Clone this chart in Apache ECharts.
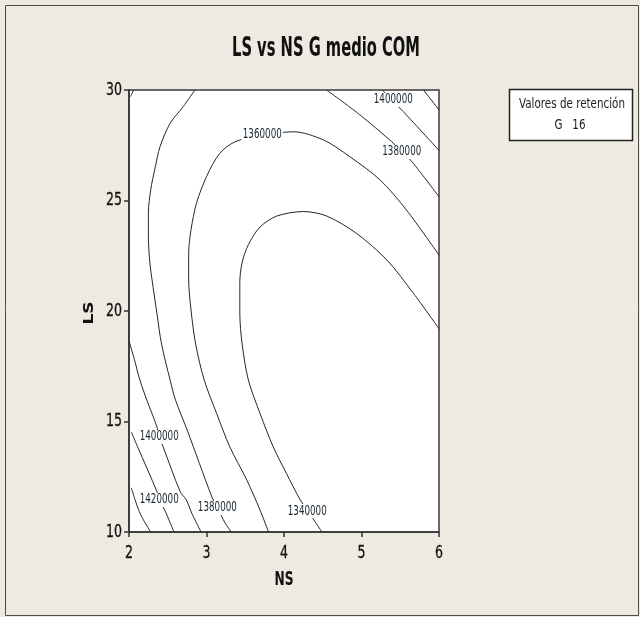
<!DOCTYPE html>
<html>
<head>
<meta charset="utf-8">
<script src="https://cdn.jsdelivr.net/npm/echarts@6/dist/echarts.min.js"></script>
<style>
html,body{margin:0;padding:0;background:#EEEAE1;}
#chart{width:640px;height:617px;}
</style>
</head>
<body>
<div id="chart"></div>
<script>
// ---- data ----
const title = 'LS vs NS G medio COM';
const xName = 'NS';
const yName = 'LS';
const xTicks = [2, 3, 4, 5, 6];
const yTicks = [10, 15, 20, 25, 30];
const holdTitle = 'Valores de retención';
const holdValue = 'G   16';

// contour lines, [NS, LS] points
const c1340 = [[4.49,10.0],[4.40,10.47],[4.31,10.95],[4.21,11.45],[4.03,12.66],[3.86,13.86],[3.69,15.37],[3.54,16.88],[3.46,18.5],[3.43,19.9],[3.43,21.3],[3.46,22.2],[3.54,23.0],[3.69,23.8],[3.91,24.3],[4.25,24.5],[4.55,24.3],[4.94,23.5],[5.33,22.3],[5.67,20.8],[6.0,19.2]];
const c1360 = [[3.80,10.0],[3.69,11.0],[3.52,12.35],[3.30,13.86],[3.13,15.37],[2.97,16.88],[2.86,18.5],[2.80,20.05],[2.77,21.40],[2.77,22.61],[2.80,23.67],[2.87,24.87],[3.00,26.08],[3.17,27.13],[3.37,27.66],[3.72,27.95],[4.12,28.11],[4.51,27.74],[4.85,26.98],[5.24,25.93],[5.58,24.57],[6.0,22.53]];
const c1380a = [[2.85,30],[2.70,29.25],[2.53,28.49],[2.40,27.43],[2.34,26.53],[2.28,25.48],[2.25,24.42],[2.25,23.37],[2.27,22.16],[2.31,21.10],[2.36,19.90],[2.42,18.5],[2.53,16.88],[2.60,15.97],[2.75,14.62],[3.07,11.58],[3.14,11.09],[3.24,10.41],[3.32,10.0]];
const c1380b = [[4.55,30],[4.97,28.9],[5.39,27.66],[5.52,27.2],[5.65,26.76],[6.0,25.17]];
const c1400a = [[2.0,18.65],[2.07,17.8],[2.14,16.88],[2.23,15.97],[2.36,14.76],[2.39,14.3],[2.44,13.86],[2.66,11.83],[2.74,11.45],[2.81,10.85],[2.93,10.0]];
const c1400b = [[5.27,30],[5.39,29.55],[5.54,29.02],[6.0,27.27]];
const c1400c = [[2.06,30],[2.02,29.7]];
const c1420a = [[2.03,14.52],[2.11,13.86],[2.36,11.83],[2.39,11.45],[2.46,11.0],[2.58,10.0]];
const c1420b = [[5.80,30],[6.0,29.1]];
const c1440 = [[2.03,12.0],[2.14,10.86],[2.28,10.0]];

const contourLines = [c1340, c1360, c1380a, c1380b, c1400a, c1400b, c1400c, c1420a, c1420b, c1440];

// contour labels [NS, LS, text]
const contourLabels = [
  [3.72, 28.0, '1360000'],
  [5.41, 29.55, '1400000'],
  [5.52, 27.2, '1380000'],
  [2.39, 14.3, '1400000'],
  [2.39, 11.45, '1420000'],
  [3.14, 11.09, '1380000'],
  [4.30, 10.95, '1340000']
];

// ---- chart ----
const FONT = '"DejaVu Sans", sans-serif';
const ctx = document.createElement('canvas').getContext('2d');
function fitScale(text, font, targetWidth) {
  ctx.font = font;
  return targetWidth / ctx.measureText(text).width;
}
// The reference's lettering is tall and narrow: fit widths, keep heights
const titleFont = 'bold 26px ' + FONT;
const titleScale = fitScale(title, titleFont, 188);
const legFont = '14px ' + FONT;
const legScale = fitScale(holdTitle, legFont, 106);
const tickFont = '18.5px ' + FONT;
const tickScale = fitScale('30', tickFont, 16);
const nameFont = 'bold 19px ' + FONT;
const nameScale = fitScale('NS', nameFont, 19);
const lblFont = '13.5px ' + FONT;
const lblScale = fitScale('1400000', lblFont, 39);

const chart = echarts.init(document.getElementById('chart'), null, {renderer: 'canvas'});

const series = contourLines.map(pts => ({
  type: 'line',
  data: pts,
  showSymbol: false,
  symbol: 'none',
  smooth: 0.3,
  clip: true,
  lineStyle: {color: '#262626', width: 1},
  silent: true,
  z: 2
}));

const option = {
  backgroundColor: '#EEEAE1',
  animation: false,
  grid: {
    left: 129, top: 90, width: 310, height: 442,
    show: true, backgroundColor: '#ffffff', borderColor: '#3a3a3a', borderWidth: 1.5
  },
  xAxis: {
    type: 'value', min: xTicks[0], max: xTicks[xTicks.length - 1], interval: 1,
    axisLine: {show: true, lineStyle: {color: '#333', width: 1.5}},
    axisTick: {show: true, length: 5, lineStyle: {color: '#333', width: 1.5}},
    axisLabel: {show: false},
    splitLine: {show: false}
  },
  yAxis: {
    type: 'value', min: yTicks[0], max: yTicks[yTicks.length - 1], interval: 5,
    axisLine: {show: true, lineStyle: {color: '#333', width: 1.5}},
    axisTick: {show: true, length: 5, lineStyle: {color: '#333', width: 1.5}},
    axisLabel: {show: false},
    splitLine: {show: false}
  },
  series: series
};
chart.setOption(option);

// text elements, positioned through the chart's own scales
const px = (x, y) => chart.convertToPixel({gridIndex: 0}, [x, y]);
const g = [];
g.push({type: 'rect', shape: {x: 5.5, y: 5.5, width: 633, height: 610}, style: {fill: null, stroke: '#4a4a4a', lineWidth: 1}, silent: true, z: 0});
g.push({type: 'text', x: 326, y: 49, scaleX: titleScale, style: {text: title, font: titleFont, fill: '#111', textAlign: 'center', textVerticalAlign: 'middle'}, z: 11});
g.push({type: 'rect', shape: {x: 509.5, y: 89.5, width: 123, height: 51}, style: {fill: '#ffffff', stroke: '#222', lineWidth: 1.5}, z: 10});
g.push({type: 'text', x: 572, y: 104, scaleX: legScale, style: {text: holdTitle, font: legFont, fill: '#222', textAlign: 'center', textVerticalAlign: 'middle'}, z: 11});
g.push({type: 'text', x: 570, y: 125, scaleX: legScale, style: {text: holdValue, font: legFont, fill: '#222', textAlign: 'center', textVerticalAlign: 'middle'}, z: 11});

const xAxisY = px(xTicks[0], yTicks[0])[1];
const yAxisX = px(xTicks[0], yTicks[0])[0];
xTicks.forEach(t => {
  const p = px(t, yTicks[0]);
  g.push({type: 'text', x: p[0], y: xAxisY + 21, scaleX: tickScale, style: {text: String(t), font: tickFont, fill: '#111', stroke: '#111', lineWidth: 0.3, textAlign: 'center', textVerticalAlign: 'middle'}, z: 11});
});
yTicks.forEach(t => {
  const p = px(xTicks[0], t);
  g.push({type: 'text', x: yAxisX - 7, y: p[1], scaleX: tickScale, style: {text: String(t), font: tickFont, fill: '#111', stroke: '#111', lineWidth: 0.3, textAlign: 'right', textVerticalAlign: 'middle'}, z: 11});
});
const xMid = px((xTicks[0] + xTicks[xTicks.length - 1]) / 2, yTicks[0])[0];
const yMid = px(xTicks[0], (yTicks[0] + yTicks[yTicks.length - 1]) / 2)[1];
g.push({type: 'text', x: xMid, y: xAxisY + 48, scaleX: nameScale, style: {text: xName, font: nameFont, fill: '#111', textAlign: 'center', textVerticalAlign: 'middle'}, z: 11});
g.push({type: 'text', x: yAxisX - 40, y: yMid + 2, rotation: Math.PI / 2, scaleX: 0.9, scaleY: 0.75, style: {text: yName, font: 'bold 19px ' + FONT, fill: '#111', textAlign: 'center', textVerticalAlign: 'middle'}, z: 11});

contourLabels.forEach(d => {
  const p = px(d[0], d[1]);
  g.push({type: 'text', x: p[0], y: p[1], scaleX: lblScale, style: {text: d[2], font: lblFont, fill: '#1a2530', textAlign: 'center', textVerticalAlign: 'middle', backgroundColor: '#ffffff', padding: [0, 2]}, z: 12});
});
chart.setOption({graphic: g});
</script>
</body>
</html>
